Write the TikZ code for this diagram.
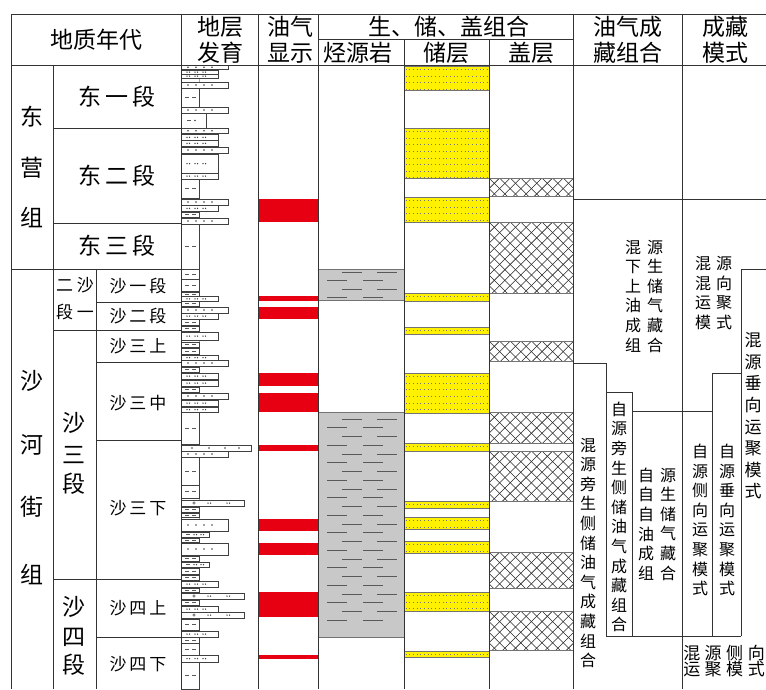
\documentclass[tikz,border=0pt]{standalone}
\usepackage{fontspec}
\setmainfont{Noto Sans CJK SC}
\definecolor{oilred}{HTML}{E60012}
\definecolor{resyel}{HTML}{FFF100}
\definecolor{shgray}{HTML}{C8C8C8}
\tikzset{
  ln/.style={draw=black!80,line width=0.7pt},
  box/.style={draw=black!75,line width=0.5pt,fill=white},
  mk/.style={fill=black!75},
  mkd/.style={draw=black!65,line width=0.6pt},
  hd/.style={inner sep=0pt,font=\fontsize{23}{26}\selectfont},
  big/.style={inner sep=0pt,font=\fontsize{23}{26}\selectfont},
  sub/.style={inner sep=0pt,font=\fontsize{17}{20}\selectfont},
  vt/.style={inner sep=0pt,align=center,font=\fontsize{16}{19.6}\selectfont},
  yedge/.style={draw=black!55,line width=0.5pt},
  dotrow/.style={draw=black!55,line width=0.7pt,dash pattern=on 0.7pt off 3pt},
  shd/.style={draw=black!65,line width=0.9pt},
  xh/.style={draw=black!85,line width=0.55pt},
}
% lithology boxes
\newcommand\LithBox[3]{\draw[box] (181,#1) rectangle (#3,#2);}
\newcommand\LS[2]{\LithBox{#1}{#2}{228}\foreach \xx in {188,196,204,212}{\fill[mk] (\xx,{(#1+#2)/2}) circle (0.85);}}
\newcommand\LF[2]{\LithBox{#1}{#2}{218}\foreach \xx in {187,189.5,195,197.5,203,205.5}{\fill[mk] (\xx,{(#1+#2)/2}) circle (0.75);}}
\newcommand\LM[2]{\LithBox{#1}{#2}{199}\draw[mkd] (185,{(#1+#2)/2}) -- (189,{(#1+#2)/2}) (192,{(#1+#2)/2}) -- (196,{(#1+#2)/2});}
\newcommand\LC[2]{\LithBox{#1}{#2}{244}\draw[mkd] (194,{(#1+#2)/2}) circle (1.3);\foreach \xx in {208,210.5,227,229.5}{\fill[mk] (\xx,{(#1+#2)/2}) circle (0.75);}}
\newcommand\LW[2]{\LithBox{#1}{#2}{251}\foreach \xx in {192,209,225,239}{\fill[mk] (\xx,{(#1+#2)/2}) circle (0.95);}}
\newcommand\LG[2]{\LithBox{#1}{#2}{209}\draw[mkd] (186,{(#1+#2)/2}) -- (189.5,{(#1+#2)/2});\foreach \xx in {194,196.5,201,203.5}{\fill[mk] (\xx,{(#1+#2)/2}) circle (0.75);}}
\newcommand\LX[2]{\LithBox{#1}{#2}{206}\draw[mkd] (187,{(#1+#2)/2}) -- (191,{(#1+#2)/2});\fill[mk] (195,{(#1+#2)/2}) circle (0.85);}
% oil show
\newcommand\OilBand[2]{\fill[oilred] (258.4,#1) rectangle (317.6,#2);}
% reservoir
\newcommand\ResBlk[2]{%
  \fill[resyel] (404,#1) rectangle (489,#2);
  \begin{scope}
    \clip (404,#1) rectangle (489,#2);
    \foreach \k in {0,...,9}{\draw[dotrow] (405.5,{#1+3.6+6.6*\k}) -- (489,{#1+3.6+6.6*\k});}
  \end{scope}
  \draw[yedge] (404,#1) -- (489,#1) (404,#2) -- (489,#2);}
% seal
\newcommand\SealBlk[2]{%
  \begin{scope}
    \clip (489,#1) rectangle (573,#2);
    \foreach \c in {-9,...,16}{\draw[xh] (489,{#1+10.6*\c}) -- (573,{#1+10.6*\c+84}) (489,{#1+10.6*\c}) -- (573,{#1+10.6*\c-84});}
  \end{scope}
  \draw[yedge] (489,#1) -- (573,#1) (489,#2) -- (573,#2);}
% shale dash rows
\newcommand\ShRowA[1]{\draw[shd] (341.7,#1) -- (361.7,#1) (377,#1) -- (397,#1);}
\newcommand\ShRowB[1]{\draw[shd] (327,#1) -- (347,#1) (363,#1) -- (383,#1);}
\begin{document}
\begin{tikzpicture}[x=1pt,y=-1pt]
\useasboundingbox (0,0) rectangle (766,689);
\fill[white] (0,0) rectangle (766,689);

% ---------- lithology column ----------
\draw[black!35,line width=0.5pt] (199,65) -- (199,689);
\LS{65}{69.5}
\LF{70}{74}
\LF{74}{78}
\LS{82}{88}
\LM{88}{107}
\LS{107}{113}
\LX{113}{128}
\LS{128}{133.5}
\LF{134.5}{140}
\LF{140.5}{146}
\LS{147}{153}
\LF{154}{173}
\LF{173}{179}
\LM{179}{198}
\LS{199}{205}
\LF{205.5}{211}
\LM{212}{217}
\LS{218}{224}
\LM{224}{269}
\LM{269}{279}
\LM{279.5}{291}
\LM{292}{296}
\LF{296.5}{301}
\LM{301}{306}
\LS{307}{313}
\LF{313}{319}
\LM{319}{325}
\LM{326}{331}
\LF{332}{340}
\LM{342}{347}
\LM{348}{354}
\LF{355}{360}
\LS{360}{366}
\LM{367}{372}
\LF{373}{379}
\LF{380}{386}
\LM{387}{392}
\LS{393}{399}
\LF{400}{406}
\LF{407}{412}
\LM{412}{444}
\LW{445}{451}
\LS{451}{457}
\LM{457}{485}
\LM{485}{498}
\LC{500}{506}
\LM{507}{512}
\LM{513}{517}
\LS{519}{531}
\LG{532}{537}
\LM{538}{542}
\LS{543}{555}
\LM{556}{561}
\LG{562}{567}
\LM{568}{574}
\LM{575}{580}
\LF{581}{587}
\LM{588}{592}
\LC{593}{599}
\LM{600}{605}
\LF{606}{612}
\LC{612}{618}
\LM{619}{630}
\LF{631}{637}
\LM{637}{643}
\LM{643}{655}
\LF{655}{662}
\LM{662}{689}

% ---------- oil show ----------
\OilBand{199}{222}
\OilBand{296}{301}
\OilBand{307}{319}
\OilBand{373}{386}
\OilBand{393}{412}
\OilBand{445}{451}
\OilBand{519}{531}
\OilBand{543}{555}
\OilBand{592}{617}
\OilBand{655}{659}

% ---------- source rock ----------
\fill[shgray] (318,269) rectangle (404,300);
\draw[black!55,line width=0.5pt] (318,269) -- (404,269) (318,300) -- (404,300);
\ShRowA{272}\ShRowB{280.5}\ShRowA{289}\ShRowB{297}
\fill[shgray] (318,412) rectangle (404,637);
\draw[black!55,line width=0.5pt] (318,412) -- (404,412) (318,637) -- (404,637);
\foreach \k in {0,...,23}{%
  \pgfmathsetmacro\yy{419+8.75*\k}
  \ifodd\k\relax \ShRowB{\yy}\else \ShRowA{\yy}\fi}

% ---------- reservoir ----------
\ResBlk{66}{90}
\ResBlk{128}{178}
\ResBlk{197}{222}
\ResBlk{293}{301}
\ResBlk{327}{334}
\ResBlk{373}{413}
\ResBlk{443}{451}
\ResBlk{501}{508}
\ResBlk{517}{529}
\ResBlk{541}{553}
\ResBlk{592}{611}
\ResBlk{651}{657}

% ---------- seal ----------
\SealBlk{178}{196}
\SealBlk{222}{293}
\SealBlk{341}{361}
\SealBlk{412}{443}
\SealBlk{451}{501}
\SealBlk{552}{588}
\SealBlk{611}{650}

% ---------- grid ----------
\draw[ln] (11,14) -- (766,14);
\draw[ln] (11,65) -- (766,65);
\draw[ln] (318,39) -- (573,39);
\draw[ln] (11,14) -- (11,689);
\draw[ln] (181,14) -- (181,689);
\draw[ln] (258,14) -- (258,689);
\draw[ln] (318,14) -- (318,689);
\draw[ln] (404,39) -- (404,689);
\draw[ln] (489,39) -- (489,689);
\draw[ln] (573,14) -- (573,689);
\draw[ln] (682,14) -- (682,689);
\draw[ln] (53,65) -- (53,689);
\draw[ln] (96,269) -- (96,689);
\draw[ln] (53,128) -- (181,128);
\draw[ln] (53,223) -- (181,223);
\draw[ln] (11,269) -- (181,269);
\draw[ln] (96,302) -- (181,302);
\draw[ln] (53,330) -- (181,330);
\draw[ln] (96,362) -- (181,362);
\draw[ln] (96,440) -- (181,440);
\draw[ln] (53,579) -- (181,579);
\draw[ln] (96,637) -- (181,637);
% right part
\draw[ln] (573,199) -- (766,199);
\draw[ln] (573,363) -- (606,363) -- (606,392) -- (632,392) -- (632,411) -- (712,411);
\draw[ln] (606,392) -- (606,636);
\draw[ln] (632,411) -- (632,636);
\draw[ln] (606,636) -- (741,636);
\draw[ln] (712,373) -- (712,636);
\draw[ln] (712,373) -- (741,373);
\draw[ln] (741,269) -- (741,636);
\draw[ln] (741,269) -- (766,269);

% ---------- header text ----------
\node[hd] (h1) at (96,40) {地质年代};
\node[hd] (h2a) at (220,27) {地层};
\node[hd] (h2b) at (220,53) {发育};
\node[hd] (h3a) at (290,27) {油气};
\node[hd] (h3b) at (290,53) {显示};
\node[hd] (h4) at (449,27) {生、储、盖组合};
\node[hd] (h5) at (358,53) {烃源岩};
\node[hd] (h6) at (446,53) {储层};
\node[hd] (h7) at (531,53) {盖层};
\node[hd] (h8a) at (628,27) {油气成};
\node[hd] (h8b) at (628,53) {藏组合};
\node[hd] (h9a) at (725,27) {成藏};
\node[hd] (h9b) at (725,53) {模式};

% ---------- stratigraphy text ----------
\node[big] (g1) at (32,117) {东};
\node[big] (g2) at (32,168) {营};
\node[big] (g3) at (32,218) {组};
\node[big] (g4) at (32,381) {沙};
\node[big] (g5) at (32,445) {河};
\node[big] (g6) at (32,507) {街};
\node[big] (g7) at (32,574) {组};
\node[big] (s1) at (117,97) {东\hspace{4pt}一\hspace{4pt}段};
\node[big] (s2) at (117,176) {东\hspace{4pt}二\hspace{4pt}段};
\node[big] (s3) at (117,246) {东\hspace{4pt}三\hspace{4pt}段};
\node[sub] (s4a) at (75,285) {二\hspace{4pt}沙};
\node[sub] (s4b) at (75,312) {段\hspace{4pt}一};
\node[big] (s5a) at (74,423) {沙};
\node[big] (s5b) at (74,455) {三};
\node[big] (s5c) at (74,484) {段};
\node[big] (s6a) at (74,607) {沙};
\node[big] (s6b) at (74,637) {四};
\node[big] (s6c) at (74,665) {段};
\node[sub] (t1) at (138,286) {沙\hspace{3pt}一\hspace{3pt}段};
\node[sub] (t2) at (138,316) {沙\hspace{3pt}二\hspace{3pt}段};
\node[sub] (t3) at (138,346) {沙\hspace{3pt}三\hspace{3pt}上};
\node[sub] (t4) at (138,403) {沙\hspace{3pt}三\hspace{3pt}中};
\node[sub] (t5) at (138,508) {沙\hspace{3pt}三\hspace{3pt}下};
\node[sub] (t6) at (138,608) {沙\hspace{3pt}四\hspace{3pt}上};
\node[sub] (t7) at (138,664) {沙\hspace{3pt}四\hspace{3pt}下};

% ---------- accumulation combination text ----------
\node[vt] (c1a) at (633,296) {混\\下\\上\\油\\成\\组};
\node[vt] (c1b) at (655,296) {源\\生\\储\\气\\藏\\合};
\node[vt] (c2) at (588,553) {混\\源\\旁\\生\\侧\\储\\油\\气\\成\\藏\\组\\合};
\node[vt] (c3) at (619,517) {自\\源\\旁\\生\\侧\\储\\油\\气\\成\\藏\\组\\合};
\node[vt] (c4a) at (646,524) {自\\自\\自\\油\\成\\组};
\node[vt] (c4b) at (668,524) {源\\生\\储\\气\\藏\\合};

% ---------- accumulation mode text ----------
\node[vt] (m1a) at (703,293) {混\\混\\运\\模};
\node[vt] (m1b) at (724,293) {源\\向\\聚\\式};
\node[vt,font=\fontsize{17}{21.6}\selectfont] (m2) at (753,416) {混\\源\\垂\\向\\运\\聚\\模\\式};
\node[vt] (m3) at (727,520) {自\\源\\垂\\向\\运\\聚\\模\\式};
\node[vt] (m4) at (700,520) {自\\源\\侧\\向\\运\\聚\\模\\式};
\node[sub] (m5a) at (724,653) {混\hspace{4.5pt}源\hspace{4.5pt}侧\hspace{4.5pt}向};
\node[sub] (m5b) at (724,669) {运\hspace{4.5pt}聚\hspace{4.5pt}模\hspace{4.5pt}式};
\end{tikzpicture}
\end{document}
